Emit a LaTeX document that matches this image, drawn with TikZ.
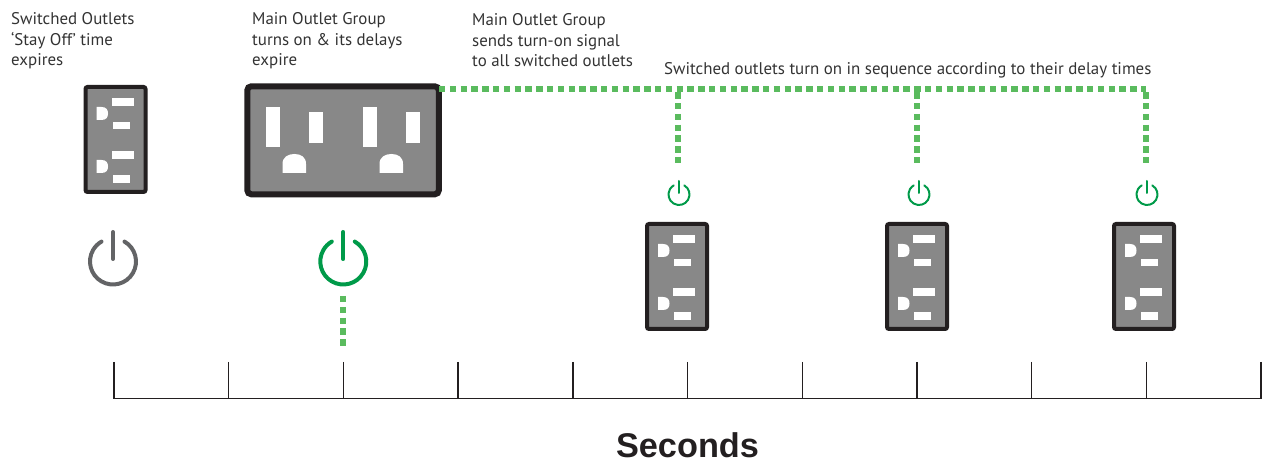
\documentclass[tikz,border=0pt]{standalone}
\usepackage{fontspec}
\setmainfont{PT Sans}
\newfontfamily\headfont{Liberation Sans}
\definecolor{outletgrey}{HTML}{888888}
\definecolor{edgeblack}{HTML}{231F20}
\definecolor{textgrey}{HTML}{333333}
\definecolor{signalgreen}{HTML}{5ABB5E}
\definecolor{ongreen}{HTML}{009A49}
\definecolor{offgrey}{HTML}{636466}
\tikzset{
  x=1pt,y=-1pt,
  caption/.style={anchor=north west,inner sep=0pt,align=left,font=\fontsize{16.9}{20.5}\selectfont,text=textgrey},
  smallbox/.style={draw=edgeblack,line width=4pt,fill=outletgrey,rounded corners=2pt,anchor=north west,minimum width=60pt,minimum height=105pt,inner sep=0pt},
  mainbox/.style={draw=edgeblack,line width=6pt,fill=outletgrey,rounded corners=4pt,anchor=north west,minimum width=191.5pt,minimum height=108pt,inner sep=0pt},
  slot/.style={fill=white,draw=none},
  signal/.style={draw=signalgreen,line width=6pt,dash pattern=on 6.4pt off 4.4pt},
  axisline/.style={draw=edgeblack,line width=1.4pt},
  anchorpt/.style={inner sep=0pt,minimum size=0pt},
}
% small outlet: #1 name, #2 x, #3 y of outer top-left corner
\newcommand{\smalloutlet}[3]{%
  \node[smallbox] (#1) at (#2,#3) {};
  \begin{scope}[shift={(#2,#3)}]
    \fill[slot] (28,13) rectangle (50,21);
    \fill[slot] (29,37) rectangle (46,44.5);
    \fill[slot] (13,22) -- (18,22) .. controls (23,22) and (24.5,25) .. (24.5,28.5) .. controls (24.5,32) and (23,35) .. (18,35) -- (13,35) -- cycle;
    \fill[slot] (28,66) rectangle (50,74);
    \fill[slot] (29,90) rectangle (46,98);
    \fill[slot] (13,75) -- (18,75) .. controls (23,75) and (24.5,78) .. (24.5,81.5) .. controls (24.5,85) and (23,88) .. (18,88) -- (13,88) -- cycle;
  \end{scope}}
% power icon: #1 name, #2 x, #3 y of centre, #4 colour, #5 radius, #6 stroke, #7 top of bar, #8 bar bottom
\newcommand{\powericon}[8]{%
  \node[anchorpt,minimum size=#5*2pt] (#1) at (#2,#3) {};
  \draw[#4,line width=#6pt,line cap=round] (#1.center) ++(60:#5 and -#5) arc[start angle=-60,end angle=240,radius=#5];
  \draw[#4,line width=#6pt,line cap=round] (#2,#7) -- (#2,#8);}
\begin{document}
\begin{tikzpicture}
\useasboundingbox (0,0) rectangle (1267,462);
% captions
\node[caption] (c1) at (11,12.5) {Switched Outlets\\‘Stay Off’ time\\expires};
\node[caption] (c2) at (252,12.5) {Main Outlet Group\\turns on \& its delays\\expire};
\node[caption] (c3) at (472,13.5) {Main Outlet Group\\sends turn-on signal\\to all switched outlets};
\node[caption] (c4) at (664,62.5) {Switched outlets turn on in sequence according to their delay times};
% outlets
\smalloutlet{off}{83.5}{85}
\smalloutlet{s1}{645}{222}
\smalloutlet{s2}{885}{222}
\smalloutlet{s3}{1112}{222}
\node[mainbox] (main) at (244.3,83.3) {};
\foreach \dx in {0,97}{
  \fill[slot] (266+\dx,107.5) rectangle (280+\dx,147);
  \fill[slot] (309+\dx,112.5) rectangle (323+\dx,143);
  \fill[slot] (282.5+\dx,173) -- (282.5+\dx,164) .. controls (282.5+\dx,157) and (288+\dx,154) .. (294.5+\dx,154) .. controls (301+\dx,154) and (306+\dx,157) .. (306+\dx,164) -- (306+\dx,173) -- cycle;
}
% signal lines
\coordinate (busstart) at (439,89.3);
\coordinate (j1) at (678,89.3);
\coordinate (j2) at (917,89.3);
\coordinate (j3) at (1146,89.3);
\coordinate (e1) at (678,165);
\coordinate (e2) at (917,165);
\coordinate (e3) at (1146,165);
\draw[signal] (busstart) -- (j3);
\draw[signal] (j1) ++(0,3) -- (e1);
\draw[signal] (j2) ++(0,3) -- (e2);
\draw[signal] (j3) ++(0,3) -- (e3);
% power icons
\powericon{poff}{113}{261.5}{offgrey}{23}{4}{232}{259}
\powericon{pmain}{343.3}{261.5}{ongreen}{23}{4}{232}{259}
\powericon{p1}{679}{194.5}{ongreen}{10.5}{2}{181}{193}
\powericon{p2}{919}{194.5}{ongreen}{10.5}{2}{181}{193}
\powericon{p3}{1147}{194.5}{ongreen}{10.5}{2}{181}{193}
\coordinate (ms) at (343.3,296);
\coordinate (me) at (343.3,346);
\draw[signal] (ms) -- (me);
% timeline
\coordinate (a0) at (114,398.7);
\coordinate (a1) at (1261,398.7);
\draw[axisline] (a0) -- (a1);
\foreach \i in {0,...,10}{
  \draw[axisline] (114+\i*114.7,362) -- (114+\i*114.7,399.4);
}
\node[anchor=base,inner sep=0pt,font=\headfont\bfseries\fontsize{34.3}{36}\selectfont,text=edgeblack] (sec) at (687.5,457) {Seconds};
\end{tikzpicture}
\end{document}
